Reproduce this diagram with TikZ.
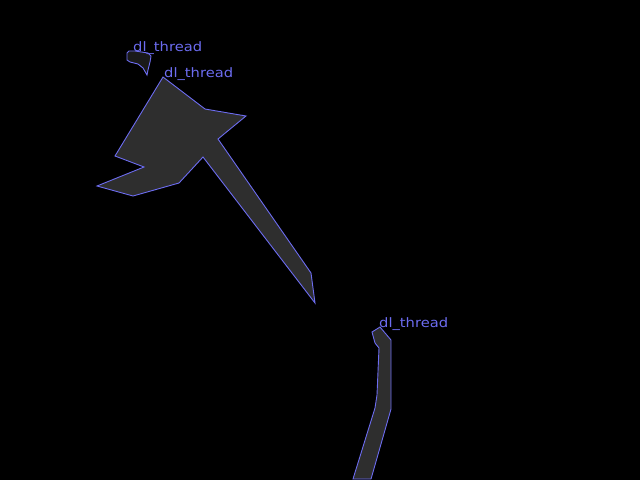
\documentclass[tikz,border=0pt]{standalone}
\usepackage{fontspec}
\newfontfamily\labelfont{DejaVu Sans}
\definecolor{maskblue}{RGB}{108,108,240}
\definecolor{maskgray}{RGB}{46,46,46}
\definecolor{faintgray}{RGB}{26,26,26}
\tikzset{mask/.style={
            draw=maskblue,
            fill=maskgray,
            line width=0.9pt,
            line join=miter
        },
        tag/.style={
            text=maskblue,
            font=\labelfont\fontsize{13}{13}\selectfont,
            inner sep=0pt,
            xscale=1.13,
            anchor=base west
        }
    }
\begin{document}
\begin{tikzpicture}
        [x=1pt,y=-1pt]

        \fill[black] (0,0) rectangle (640,480);
        \useasboundingbox (0,0) rectangle (640,480);

        \draw[mask,fill=faintgray] (129,51) -- (127,53) -- (127,60) -- (130,62) -- (138,64) -- (143,68) -- (147,75) -- (148,70) -- (150,62) -- (151,56) -- (148,53) -- (135,51) -- cycle;
        \draw[mask] (163,77) -- (205,109) -- (246,116) -- (218,139) -- (311,273) -- (315,303) -- (203,157) -- (179,183) -- (133,196) -- (97,186) -- (144,167) -- (115,156) -- cycle;
        \draw[mask] (372,332) -- (380,327) -- (391,340) -- (391,409) -- (371,479) -- (353,479) -- (375,408) -- (377,395) -- (379,348) -- (375,343) -- cycle;

        \node[tag] (tagA) at (133,51) {dl\_thread};
        \node[tag] (tagB) at (164,77) {dl\_thread};
        \node[tag] (tagC) at (379,327) {dl\_thread};

    \end{tikzpicture}
\end{document}
